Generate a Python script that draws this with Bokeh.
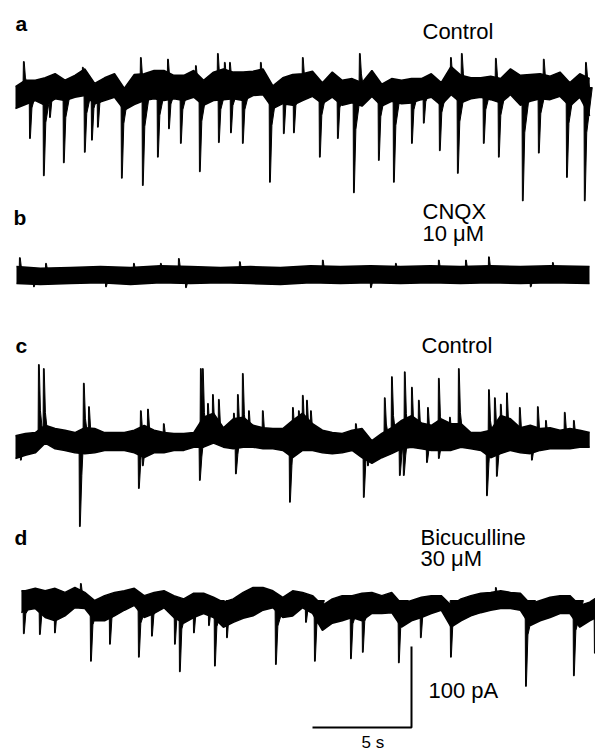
from bokeh.plotting import figure
from bokeh.models import Range1d, Label
from bokeh.embed import file_html
from bokeh.resources import INLINE

# ---------------- data (time in s, current in pA relative to each trace's baseline) ----------------
# sampling times of the noise envelope (s)
GRID_T = [0.0, 0.5, 1.0, 1.5, 2.0, 2.5, 3.0, 3.5, 4.0, 4.5, 5.0, 5.5, 6.0, 6.5, 7.0, 7.5, 8.0, 8.5,
          9.0, 9.5, 10.0, 10.5, 11.0, 11.5, 12.0, 12.5, 13.0, 13.5, 14.0, 14.5, 15.0, 15.5, 16.0,
          16.5, 17.0, 17.5, 18.0, 18.5, 19.0, 19.5, 20.0, 20.5, 21.0, 21.5, 22.0, 22.5, 23.0, 23.5,
          24.0, 24.5, 25.0, 25.5, 26.0, 26.5, 27.0, 27.5, 28.0, 28.5, 29.0]

# Trace a : Control
A_ENV_HI = [1, 9, 9, 12, 17, 9, 15, 23, 5, 12, 17, -1, 16, 17, 21, 21, 15, 15, 21, 9, 19, 23, 19, 19,
            20, 23, 2, 12, 16, 17, 20, 6, 19, 9, 11, 6, 21, 4, 11, 9, 11, 11, 17, 6, 26, 15, 12, 12,
            14, 11, 23, 15, 16, 17, 14, 19, 6, 17, 11]
A_ENV_LO = [-26, -21, -16, -22, -14, -16, -12, -10, -20, -16, -12, -28, -21, -16, -14, -16, -14, -16,
            -12, -22, -16, -15, -14, -16, -10, -9, -26, -20, -22, -16, -11, -20, -12, -22, -19, -23,
            -11, -23, -17, -20, -19, -15, -12, -22, -9, -19, -14, -12, -15, -19, -9, -22, -17, -14,
            -15, -11, -23, -12, -35]
A_EV_T = [0.71, 1.41, 1.72, 2.42, 3.48, 3.84, 4.14, 5.35, 6.41, 7.17, 7.73, 8.33, 9.29, 10.25, 10.86,
          11.46, 12.83, 13.53, 14.04, 15.35, 16.26, 17.07, 18.33, 19.09, 20.0, 20.6, 21.41, 22.32, 23.63,
          24.39, 25.6, 26.41, 27.83, 28.73]
A_EV_AMP = [-63, -109, -37, -93, -80, -65, -49, -112, -121, -86, -51, -69, -104, -68, -56, -69, -117, -57,
            -56, -86, -63, -130, -90, -117, -69, -44, -78, -106, -69, -86, -140, -81, -111, -140]
A_UP_T = [0.4, 3.38, 6.31, 7.68, 9.09, 10.2, 10.55, 10.81, 12.37, 14.49, 17.37, 21.97, 22.52, 24.24,
          26.66, 28.79]
A_UP_AMP = [32, 25, 37, 35, 27, 42, 31, 31, 31, 37, 42, 37, 42, 36, 35, 31]

# Trace b : CNQX 10 uM
B_ENV_T = [0.05, 1.26, 2.78, 4.29, 5.81, 7.32, 8.84, 10.35, 11.87, 13.38, 14.9, 16.41, 17.93, 19.44,
           20.96, 22.47, 23.99, 25.5, 27.02, 28.99]
B_ENV_HI = [11, 9, 10, 11, 10, 12, 11, 10, 11, 10, 12, 11, 12, 11, 12, 11, 12, 11, 12, 11]
B_ENV_LO = [-10, -11, -10, -9, -11, -9, -10, -9, -10, -11, -9, -10, -9, -10, -9, -10, -9, -10, -9, -10]
B_EV_T = [0.91, 4.55, 8.59, 17.93, 26.0]
B_EV_AMP = [-14, -14, -15, -15, -14]
B_UP_T = [0.2, 1.52, 5.96, 7.32, 8.23, 11.31, 15.5, 19.19, 21.36, 22.73, 23.89, 27.12]
B_UP_AMP = [22, 15, 15, 15, 21, 17, 19, 15, 19, 19, 23, 16]

# Trace c : Control
C_ENV_HI = [7, 10, 11, 20, 16, 14, 11, 17, 16, 11, 11, 11, 14, 20, 14, 11, 10, 10, 11, 30, 35, 17, 28,
            30, 20, 17, 16, 16, 26, 35, 22, 14, 11, 10, 14, 16, 1, 10, 17, 26, 32, 23, 20, 28, 22, 22,
            11, 11, 14, 32, 28, 17, 20, 16, 17, 14, 16, 14, 11]
C_ENV_LO = [-21, -17, -14, -2, -9, -11, -14, -15, -14, -11, -11, -11, -14, -20, -14, -14, -11, -11, -7,
            -7, -2, -7, -9, -7, -7, -9, -9, -11, -20, -11, -11, -14, -15, -14, -11, -20, -27, -20, -15,
            -9, -7, -9, -11, -11, -11, -7, -9, -11, -20, -15, -11, -14, -15, -11, -9, -9, -9, -7, -7]
C_EV_T = [0.25, 3.23, 6.21, 6.41, 9.29, 11.11, 13.84, 17.57, 17.78, 19.39, 19.59, 20.76, 21.36, 23.79,
          24.29, 26.06]
C_EV_AMP = [-23, -105, -58, -30, -48, -40, -75, -69, -30, -42, -42, -26, -21, -67, -43, -23]
C_UP_T = [1.16, 1.41, 3.43, 3.69, 6.31, 6.67, 7.47, 9.34, 9.44, 9.7, 9.95, 10.25, 11.01, 11.21, 11.46,
          11.77, 12.47, 13.99, 14.29, 14.49, 14.7, 14.9, 17.17, 18.63, 18.99, 19.64, 20.0, 20.35, 20.81,
          21.36, 21.92, 22.37, 23.89, 24.19, 24.49, 24.8, 25.45, 26.36, 26.77, 27.72, 28.18]
C_UP_AMP = [95, 90, 72, 43, 38, 40, 22, 90, 90, 47, 58, 52, 35, 58, 84, 38, 38, 42, 38, 57, 51, 38, 22,
            54, 80, 86, 67, 51, 42, 78, 30, 90, 64, 54, 46, 60, 42, 43, 26, 36, 26]

# Trace d : Bicuculline 30 uM (starts 0.3 s, ends 29.5 s)
D_ENV_T = [0.3] + GRID_T[1:] + [29.5]
D_ENV_HI = [12, 12, 15, 12, 15, 10, 16, 10, 0, 6, 10, 12, 15, 6, 10, 12, 6, 2, 9, 9, 4, -2, 2, 10, 16,
            16, 12, 4, 12, 10, 6, -6, 2, 6, 6, 9, 10, 6, 10, -4, 0, 4, 6, 6, -6, 2, 6, 9, 10, 12, 10, 9,
            -4, 0, 4, 6, 6, -6, -2, 6]
D_ENV_LO = [-15, -12, -10, -21, -25, -19, -9, -10, -25, -25, -19, -12, -6, -21, -16, -9, -21, -28, -21,
            -16, -21, -33, -27, -22, -19, -12, -9, -21, -19, -9, -16, -37, -28, -25, -21, -25, -16, -16,
            -15, -33, -25, -21, -16, -12, -33, -25, -19, -15, -12, -10, -10, -12, -31, -25, -21, -16,
            -16, -33, -25, -19]
D_EV_T = [0.4, 1.21, 1.97, 3.79, 4.75, 6.21, 6.87, 8.03, 8.28, 8.99, 9.75, 10.05, 10.66, 13.13, 14.65,
          15.1, 16.92, 17.52, 19.34, 20.45, 21.97, 25.76, 28.18, 29.24]
D_EV_AMP = [-41, -42, -40, -75, -54, -70, -44, -54, -88, -40, -31, -81, -46, -79, -27, -75, -72, -64,
            -77, -46, -70, -106, -93, -65]
D_UP_T = [3.28, 24.24]
D_UP_AMP = [21, 16]

# scale bar
BAR_T = 5     # s
BAR_I = 100   # pA

# ---------------- layout ----------------
W, H = 595, 751
S_PER_PX = 5 / 99
PA_PER_PX = 100 / 81

p = figure(width=W, height=H, output_backend="svg", toolbar_location=None,
           x_range=Range1d(-15 * S_PER_PX, (W - 15) * S_PER_PX),
           y_range=Range1d(-H * PA_PER_PX, 0),
           x_axis_type=None, y_axis_type=None, min_border=0)
p.grid.visible = False
p.outline_line_color = None
p.background_fill_color = "white"
p.border_fill_color = "white"


def draw_trace(base, env_t, env_hi, env_lo, ev_t, ev_amp, up_t, up_amp, dn_decay, up_decay):
    p.varea(x=env_t, y1=[base + v for v in env_lo], y2=[base + v for v in env_hi],
            fill_color="black")
    p.line(x=env_t, y=[base + v for v in env_lo], line_color="black", line_width=1.5)
    p.line(x=env_t, y=[base + v for v in env_hi], line_color="black", line_width=1.5)
    xs, ys = [], []
    for t, a in zip(ev_t, ev_amp):
        xs.append([t - 0.02, t, t + 0.04, t + 0.12, t + dn_decay])
        ys.append([base, base + a, base + a, base + a * 0.4, base])
    for t, a in zip(up_t, up_amp):
        xs.append([t - 0.02, t, t + 0.04, t + 0.1, t + up_decay])
        ys.append([base, base + a, base + a, base + a * 0.4, base])
    p.patches(xs, ys, fill_color="black", line_color="black", line_width=1)


draw_trace(-87 * PA_PER_PX, GRID_T, A_ENV_HI, A_ENV_LO, A_EV_T, A_EV_AMP, A_UP_T, A_UP_AMP, 0.4, 0.2)
draw_trace(-275 * PA_PER_PX, B_ENV_T, B_ENV_HI, B_ENV_LO, B_EV_T, B_EV_AMP, B_UP_T, B_UP_AMP, 0.15, 0.12)
draw_trace(-441 * PA_PER_PX, GRID_T, C_ENV_HI, C_ENV_LO, C_EV_T, C_EV_AMP, C_UP_T, C_UP_AMP, 0.2, 0.25)
draw_trace(-600 * PA_PER_PX, D_ENV_T, D_ENV_HI, D_ENV_LO, D_EV_T, D_EV_AMP, D_UP_T, D_UP_AMP, 0.5, 0.15)

# scale bar (5 s, 100 pA)
bar_t0 = 15.0
bar_y0 = -727 * PA_PER_PX
p.line(x=[bar_t0, bar_t0 + BAR_T, bar_t0 + BAR_T], y=[bar_y0, bar_y0, bar_y0 + BAR_I],
       line_color="black", line_width=2)

FONT = "Liberation Sans"


def label(x, y_base, text, size="22px", bold=False):
    p.add_layout(Label(x=x, y=H - y_base, x_units="screen", y_units="screen", text=text,
                       text_font=FONT, text_font_size=size, text_color="black",
                       text_font_style="bold" if bold else "normal",
                       text_baseline="alphabetic", text_align="left"))


label(15, 23, "a", "21px", True)
label(13, 217, "b", "21px", True)
label(15, 345, "c", "21px", True)
label(14, 537, "d", "21px", True)
label(422, 31, "Control")
label(422, 211, "CNQX")
label(422, 233, "10 \u03bcM")
label(421, 345, "Control")
label(420, 537, "Bicuculline")
label(420, 558, "30 \u03bcM")
label(428, 690, "100 pA")
label(361, 742, "5 s", "17px")

open("out.html", "w").write(file_html(p, INLINE))
